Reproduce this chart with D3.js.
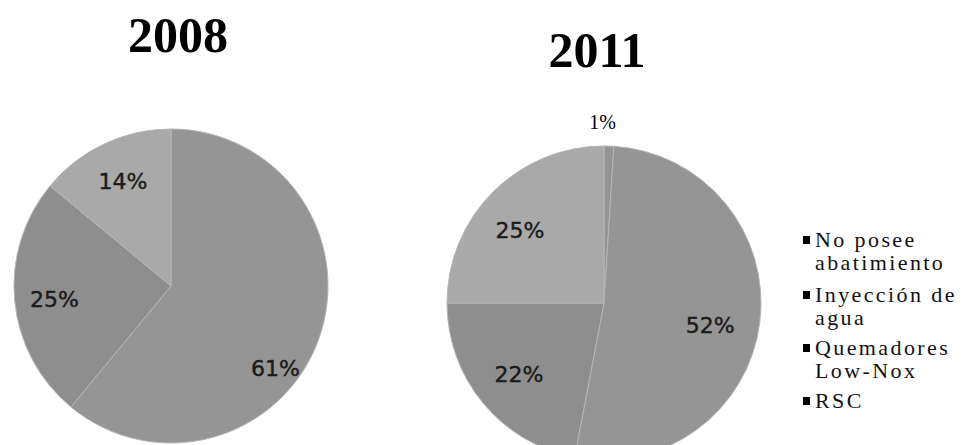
<!DOCTYPE html>
<html>
<head>
<meta charset="utf-8">
<script src="https://cdn.jsdelivr.net/npm/d3@7"></script>
<style>
  html, body { margin: 0; padding: 0; background: #fff; }
  svg { display: block; }
</style>
</head>
<body>
<svg id="chart" width="974" height="445"></svg>
<script>
// ---- data ----
const categories = ["No posee abatimiento", "Inyección de agua", "Quemadores Low-Nox", "RSC"];
const legendLines = [["No posee", "abatimiento"], ["Inyección de", "agua"], ["Quemadores", "Low-Nox"], ["RSC"]];
const years = ["2008", "2011"];
const values2008 = [0, 61, 25, 14];
const values2011 = [1, 52, 22, 25];
const sliceColors = ["#939393", "#959595", "#8e8e8e", "#a9a9a9"];

const svg = d3.select("#chart");

// layout (not data)
const pies = [
  { year: years[0], values: values2008, cx: 171, cy: 286, r: 157, titleX: 178, titleY: 52,
    nudge: [[0, 0], [-2, 44], [-4, 3], [0, -2]] },
  { year: years[1], values: values2011, cx: 604, cy: 303, r: 157, titleX: 597, titleY: 67,
    nudge: [[-7, -1], [-6, 8], [2, -1], [-4, 7]] }
];

const color = d3.scaleOrdinal().domain(categories).range(sliceColors);
const pie = d3.pie().sort(null).value(d => d.value);

pies.forEach(p => {
  const data = categories.map((c, i) => ({ cat: c, value: p.values[i], idx: i }));
  const arcs = pie(data);
  const arc = d3.arc().innerRadius(0).outerRadius(p.r);
  const labelArc = d3.arc().innerRadius(p.r * 0.72).outerRadius(p.r * 0.72);
  const outArc = d3.arc().innerRadius(p.r * 1.15).outerRadius(p.r * 1.15);

  const g = svg.append("g").attr("transform", `translate(${p.cx},${p.cy})`);
  g.selectAll("path.slice")
    .data(arcs.filter(a => a.data.value > 0))
    .join("path")
    .attr("class", "slice")
    .attr("d", arc)
    .attr("fill", d => color(d.data.cat))
    .attr("stroke", "#b5b5b5")
    .attr("stroke-width", 1);

  g.selectAll("text.lbl")
    .data(arcs.filter(a => a.data.value > 0))
    .join("text")
    .attr("class", "lbl")
    .attr("transform", d => {
      const c = (d.data.value < 5 ? outArc : labelArc).centroid(d);
      const n = p.nudge[d.data.idx];
      return `translate(${c[0] + n[0]},${c[1] + n[1]})`;
    })
    .attr("text-anchor", "middle")
    .attr("dominant-baseline", "central")
    .attr("font-family", d => d.data.value < 5 ? "'Liberation Serif', serif" : "'DejaVu Sans', sans-serif")
    .attr("font-size", d => d.data.value < 5 ? 20 : 22)
    .attr("fill", d => d.data.value < 5 ? "#000" : "#1a1a1a")
    .attr("stroke", d => d.data.value < 5 ? "none" : "#1a1a1a")
    .attr("stroke-width", 0.4)
    .text(d => d.data.value + "%");

  svg.append("text")
    .attr("x", p.titleX).attr("y", p.titleY)
    .attr("text-anchor", "middle")
    .attr("font-family", "'Liberation Serif', serif")
    .attr("font-weight", "bold")
    .attr("font-size", 50)
    .attr("fill", "#000")
    .text(p.year);
});

// ---- legend ----
const legendY = [247, 302, 355, 408];
const lg = svg.append("g").attr("class", "legend");
categories.forEach((c, i) => {
  const item = lg.append("g").attr("transform", `translate(803,${legendY[i]})`);
  item.append("rect").attr("x", 0).attr("y", -11).attr("width", 7).attr("height", 8).attr("fill", "#000");
  const t = item.append("text")
    .attr("x", 12).attr("y", 0)
    .attr("font-family", "'Liberation Serif', serif")
    .attr("font-size", 22)
    .attr("letter-spacing", 2.4)
    .attr("fill", "#111");
  legendLines[i].forEach((ln, j) => {
    t.append("tspan").attr("x", 12).attr("dy", j === 0 ? 0 : 23).text(ln);
  });
});
</script>
</body>
</html>
